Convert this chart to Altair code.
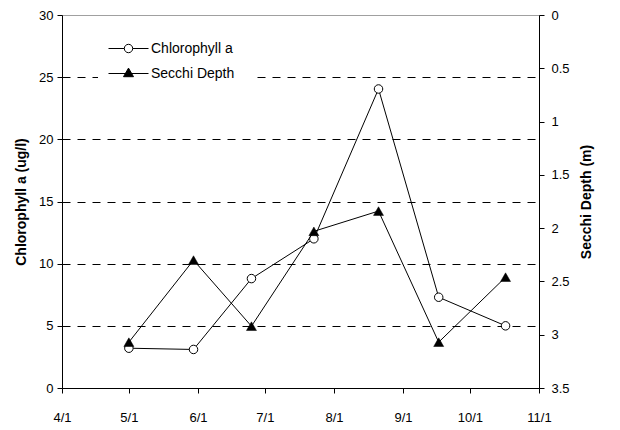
import altair as alt
import pandas as pd

# ---- data ----
dates = ["2005-05-01", "2005-05-30", "2005-06-25", "2005-07-23",
         "2005-08-21", "2005-09-17", "2005-10-17"]
chlorophyll = [3.2, 3.1, 8.8, 12.0, 24.05, 7.3, 5.0]
secchi = [3.07, 2.30, 2.92, 2.03, 1.84, 3.07, 2.46]
series_names = ["Chlorophyll a", "Secchi Depth"]
x_tick_months = [4, 5, 6, 7, 8, 9, 10, 11]
chl_ticks = [0, 5, 10, 15, 20, 25, 30]
secchi_ticks = [0, 0.5, 1, 1.5, 2, 2.5, 3, 3.5]

df = pd.DataFrame({"date": dates, "chl": chlorophyll, "secchi": secchi})
legend_df = pd.DataFrame({"series": series_names, "date": dates[:2], "chl": chlorophyll[:2]})

FONT = "Liberation Sans"

def dt(m, d=1):
    return alt.DateTime(year=2005, month=m, date=d, utc=True)

x_enc = alt.X(
    "date:T",
    scale=alt.Scale(type="utc", domain=[dt(4), dt(11)]),
    axis=alt.Axis(title=None, values=[dt(m) for m in x_tick_months],
                  labelExpr="utcFormat(datum.value, '%-m/%-d')",
                  labelOverlap=False, labelFlush=False, labelAlign="center",
                  grid=False, labelPadding=18),
)

y_chl = alt.Y(
    "chl:Q",
    scale=alt.Scale(domain=[0, 30], nice=False),
    axis=alt.Axis(title="Chlorophyll a (ug/l)", orient="left", values=chl_ticks,
                  grid=True, gridDash=[8, 7], gridColor="black",
                  gridOpacity={"condition": {"test": "datum.value == 0 || datum.value == 30", "value": 0}, "value": 1},
                  labelPadding=4, titlePadding=10),
)

y_sec = alt.Y(
    "secchi:Q",
    scale=alt.Scale(domain=[0, 3.5], reverse=True, nice=False),
    axis=alt.Axis(title="Secchi Depth (m)", orient="right", values=secchi_ticks,
                  format="~g", grid=False, labelPadding=7, titlePadding=10,
                  titleAngle=270, titleBaseline="top"),
)

base = alt.Chart(df)

chl_line = base.mark_line(color="black", strokeWidth=1).encode(x=x_enc, y=y_chl)
chl_pts = base.mark_point(shape="circle", size=72, filled=True, fill="white",
                          stroke="black", strokeWidth=1, opacity=1).encode(x=x_enc, y=y_chl)

circle_sym = "M-2,0H-0.42M0.42,0H2M-0.42,0A0.42,0.42,0,1,0,0.42,0A0.42,0.42,0,1,0,-0.42,0Z"
tri_sym = "M-2,0H2M-0.5,0.32L0,-0.54L0.5,0.32Z"
leg = alt.Legend(title=None, orient="none", legendX=36, legendY=3, padding=20,
                 fillColor="white", labelFont=FONT, labelFontSize=14,
                 labelColor="black", labelOffset=12, rowPadding=7,
                 symbolStrokeWidth=1, symbolSize=400)

legend_layer = alt.Chart(legend_df).transform_filter("false").mark_point(
    filled=True, size=400, strokeWidth=1, opacity=1
).encode(
    x=x_enc,
    y=y_chl,
    shape=alt.Shape("series:N", scale=alt.Scale(domain=series_names, range=[circle_sym, tri_sym]), legend=leg),
    fill=alt.Fill("series:N", scale=alt.Scale(domain=series_names, range=["white", "black"]), legend=leg),
    stroke=alt.Stroke("series:N", scale=alt.Scale(domain=series_names, range=["black", "black"]), legend=leg),
)

sec_line = base.mark_line(color="black", strokeWidth=1).encode(x=x_enc, y=y_sec)
sec_pts = base.mark_point(shape="triangle-up", size=100, filled=True, fill="black",
                          stroke="black", strokeWidth=0.5, opacity=1).encode(x=x_enc, y=y_sec)

left = alt.layer(chl_line, legend_layer, chl_pts)
right = alt.layer(sec_line, sec_pts)

chart = alt.layer(left, right).resolve_scale(y="independent").properties(
    width=477, height=373,
    autosize=alt.AutoSizeParams(type="none"),
    padding={"left": 54, "top": 7, "right": 70, "bottom": 40},
    background="white",
).configure_axis(
    labelFont=FONT, labelFontSize=13, labelColor="black",
    titleFont=FONT, titleFontSize=14, titleFontWeight="bold", titleColor="black",
    domainColor="black", domainWidth=1, tickColor="black", tickWidth=1, tickSize=5,
).configure_view(stroke="#a0a0a0", strokeWidth=1)

chart.save("out.html", embed_options={"renderer": "svg", "actions": False})
